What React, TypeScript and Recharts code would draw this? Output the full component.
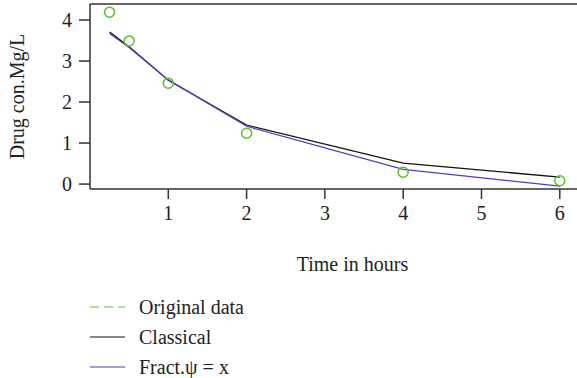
import React from "react";
import { ComposedChart, Line, XAxis, YAxis, ReferenceLine } from "recharts";

const times = [0.25, 0.5, 1, 2, 4, 6];
const original = [4.19, 3.49, 2.46, 1.24, 0.29, 0.08];
const classical = [3.71, 3.35, 2.53, 1.44, 0.51, 0.17];
const fract = [3.67, 3.33, 2.54, 1.41, 0.36, -0.05];
const xTicks = [1, 2, 3, 4, 5, 6];
const yTicks = [0, 1, 2, 3, 4];

const GREEN = "#5cbf2a";
const BLUE = "#4a3fc4";
const AXIS = "#333";
const FONT = "'Liberation Serif', 'DejaVu Serif', serif";
const Y_MAX = 4.39;

const data = times.map((t, i) => ({
  t,
  original: original[i],
  classical: classical[i],
  fract: fract[i],
}));

const legendItems = [
  { label: "Original data", color: GREEN, dash: "9 5" },
  { label: "Classical", color: "#111", dash: undefined },
  { label: "Fract.\u03C8 = x", color: BLUE, dash: undefined },
];

const LegendBox = () => (
  <div style={{ position: "absolute", left: 90, top: 292, fontFamily: FONT, fontSize: 20, color: "#222" }}>
    {legendItems.map((it) => (
      <div key={it.label} style={{ display: "flex", alignItems: "center", height: 30 }}>
        <svg width={36} height={10} style={{ marginRight: 13 }}>
          <line x1={0} y1={5} x2={35} y2={5} stroke={it.color} strokeWidth={1.2} strokeDasharray={it.dash} />
        </svg>
        <span>{it.label}</span>
      </div>
    ))}
  </div>
);

export default function App() {
  const tick = { fill: "#222", fontSize: 20, fontFamily: FONT };
  return (
    <div style={{ position: "absolute", left: 0, top: 0, width: 577, height: 378, background: "#fff" }}>
      <ComposedChart
        width={577}
        height={378}
        data={data}
        margin={{ top: 4, right: 0, left: 40, bottom: 159 }}
      >
        <XAxis
          dataKey="t"
          type="number"
          domain={[0, 6.22]}
          ticks={xTicks}
          interval={0}
          allowDataOverflow
          height={30}
          stroke={AXIS}
          strokeWidth={1.5}
          tickSize={10}
          tickMargin={7}
          tick={tick}
          label={{ value: "Time in hours", position: "insideBottom", offset: 0, dx: 19, dy: 52, style: { ...tick, textAnchor: "middle" } }}
        />
        <YAxis
          type="number"
          domain={[-0.12, Y_MAX]}
          ticks={yTicks}
          interval={0}
          allowDataOverflow
          width={50}
          stroke={AXIS}
          strokeWidth={1.5}
          tickSize={11}
          tickMargin={7}
          tick={tick}
          label={{ value: "Drug con.Mg/L", angle: -90, position: "insideLeft", dx: -28, dy: 0, style: { ...tick, textAnchor: "middle" } }}
        />
        <ReferenceLine y={Y_MAX} stroke={AXIS} strokeWidth={1.5} />
        <Line
          dataKey="classical"
          stroke="#111"
          strokeWidth={1.3}
          dot={false}
          isAnimationActive={false}
        />
        <Line
          dataKey="fract"
          stroke={BLUE}
          strokeWidth={1.2}
          dot={false}
          isAnimationActive={false}
        />
        <Line
          dataKey="original"
          stroke="none"
          dot={{ r: 5, stroke: GREEN, strokeWidth: 1.5, fill: "none" }}
          isAnimationActive={false}
        />
      </ComposedChart>
      <LegendBox />
    </div>
  );
}
